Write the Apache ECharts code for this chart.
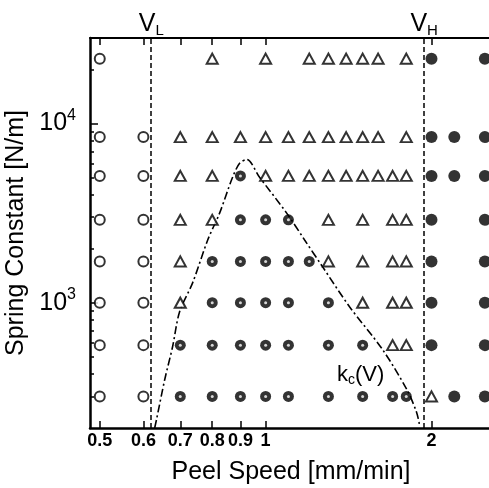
<!DOCTYPE html>
<html>
<head>
<meta charset="utf-8">
<script src="https://cdn.jsdelivr.net/npm/echarts@6/dist/echarts.min.js"></script>
<style>
  html, body { margin: 0; padding: 0; background: #fff; }
  #chart { width: 489px; height: 488px; }
</style>
</head>
<body>
<div id="chart"></div>
<script>
// ─── data ─────────────────────────────────────────────────
// spring constant of each measured row [N/m], top to bottom
const SPRING_K = [23000, 8400, 5100, 2900, 1700, 1000, 580, 300];

// peel speeds [mm/min] per row, split by marker kind
const OPEN_V = [[0.5], [0.5, 0.6], [0.5, 0.6], [0.5, 0.6], [0.5, 0.6], [0.5, 0.6], [0.5, 0.6], [0.5, 0.6]];
const TRI_V = [
  [0.8, 1.0, 1.2, 1.3, 1.4, 1.5, 1.6, 1.8],
  [0.7, 0.8, 0.9, 1.0, 1.1, 1.2, 1.3, 1.4, 1.5, 1.6, 1.8],
  [0.7, 0.8, 1.0, 1.1, 1.2, 1.3, 1.4, 1.5, 1.6, 1.7, 1.8],
  [0.7, 0.8, 1.3, 1.5, 1.7, 1.8],
  [0.7, 1.3, 1.5, 1.7, 1.8],
  [0.7, 1.5, 1.7, 1.8],
  [1.7, 1.8],
  [2.0]
];
const DOT_V = [
  [],
  [],
  [0.9],
  [0.9, 1.0, 1.1],
  [0.8, 0.9, 1.0, 1.1, 1.2],
  [0.8, 0.9, 1.0, 1.1, 1.3],
  [0.7, 0.8, 0.9, 1.0, 1.1, 1.3, 1.5],
  [0.7, 0.8, 0.9, 1.0, 1.1, 1.3, 1.5, 1.7, 1.8]
];
const FILL_V = [[2.0, 2.5], [2.0, 2.2, 2.5], [2.0, 2.2, 2.5], [2.0, 2.5], [2.0, 2.5], [2.0, 2.5], [2.0, 2.5], [2.2, 2.5]];

// critical spring constant curve k_c(V)
const KC_V = [0.629, 0.634, 0.656, 0.678, 0.698, 0.737, 0.785, 0.825, 0.871, 0.897, 0.924, 0.975, 1.092, 1.177, 1.269, 1.42, 1.63, 1.803, 1.879, 1.904];
const KC_K = [200, 224, 373, 570, 891, 1291, 2239, 3162, 5012, 5995, 6300, 5012, 3162, 2239, 1585, 950, 548, 329, 245, 205];

// boundary speeds
const V_L = 0.618;
const V_H = 1.944;

// axis ticks
const X_TICKS = [0.5, 0.6, 0.7, 0.8, 0.9, 1, 2];
const Y_MAJOR = [1000, 10000];
const Y_MINOR = [300, 400, 500, 600, 700, 800, 900, 2000, 3000, 4000, 5000, 6000, 7000, 8000, 9000, 20000];

// ─── helpers ─────────────────────────────────────────────
const toPoints = (rows) => rows.flatMap((vs, i) => vs.map((v) => [v, SPRING_K[i]]));
const FONT = "Liberation Sans";
const BLACK = "#000";

const hollow = { color: "#fff", borderColor: BLACK, borderWidth: 2 };

const xBase = {
  type: "log",
  logBase: 10,
  min: 0.48,
  max: 2.8,
  splitLine: { show: false },
  axisLine: { lineStyle: { color: BLACK, width: 2.5 } },
  axisTick: { inside: true, length: 7, customValues: X_TICKS, lineStyle: { color: BLACK, width: 1.5 } },
};
const yBase = {
  type: "log",
  logBase: 10,
  min: 200,
  max: 30000,
  position: "left",
  splitLine: { show: false },
};

const chart = echarts.init(document.getElementById("chart"));

chart.setOption({
  animation: false,
  backgroundColor: "#fff",
  textStyle: { fontFamily: FONT, color: BLACK },
  grid: { left: 90, top: 38, bottom: 60, right: -23, outerBoundsMode: "none", containLabel: false },
  xAxis: [
    {
      ...xBase,
      position: "bottom",
      name: "Peel Speed [mm/min]",
      nameLocation: "middle",
      nameGap: 32,
      nameTextStyle: { fontFamily: FONT, fontSize: 25, color: BLACK, padding: [0, 20, 0, 0] },
      axisLabel: {
        customValues: X_TICKS,
        formatter: (v) => String(+(+v).toPrecision(2)),
        fontFamily: FONT,
        fontSize: 18,
        fontWeight: "bold",
        color: BLACK,
        margin: 4,
      },
    },
    {
      ...xBase,
      position: "top",
      axisLine: { lineStyle: { color: BLACK, width: 2 } },
      axisLabel: { show: false },
    },
  ],
  yAxis: [
    {
      ...yBase,
      name: "Spring Constant [N/m]",
      nameLocation: "middle",
      nameGap: 48,
      nameTextStyle: { fontFamily: FONT, fontSize: 25, color: BLACK },
      axisLine: { lineStyle: { color: BLACK, width: 2.5 } },
      axisTick: { inside: true, length: 8, customValues: Y_MAJOR, lineStyle: { color: BLACK, width: 1.5 } },
      axisLabel: {
        customValues: Y_MAJOR,
        margin: 14,
        formatter: (v) => "{b|10}{s|" + Math.round(Math.log10(v)) + "}",
        rich: {
          b: { fontFamily: FONT, fontSize: 25, color: BLACK },
          s: { fontFamily: FONT, fontSize: 16, color: BLACK, padding: [0, 0, 16, 0] },
        },
      },
    },
    {
      ...yBase,
      axisLine: { show: false },
      axisTick: { inside: true, length: 4, customValues: Y_MINOR, lineStyle: { color: BLACK, width: 1.5 } },
      axisLabel: { show: false },
    },
  ],
  series: [
    {
      name: "k_c(V)",
      type: "line",
      data: KC_V.map((v, i) => [v, KC_K[i]]),
      smooth: 0.3,
      symbol: "none",
      lineStyle: { color: BLACK, width: 1.6, type: [8, 3, 2, 3] },
      z: 1,
      markPoint: {
        symbol: "circle",
        symbolSize: 1,
        itemStyle: { color: "transparent" },
        label: {
          show: true,
          position: "inside",
          formatter: "{k|k}{c|c}{k|(V)}",
          rich: {
            k: { fontFamily: FONT, fontSize: 22, color: BLACK },
            c: { fontFamily: FONT, fontSize: 14, color: BLACK, padding: [10, 0, 0, 0] },
          },
        },
        data: [{ coord: [1.487, 393] }],
      },
    },
    {
      name: "open",
      type: "scatter",
      data: toPoints(OPEN_V),
      symbol: "circle",
      symbolSize: 10,
      itemStyle: hollow,
      z: 3,
      markLine: {
        silent: true,
        symbol: ["none", "none"],
        lineStyle: { color: BLACK, width: 1.5, type: [5, 3] },
        label: {
          show: true,
          position: "end",
          distance: 0,
          formatter: (p) => "{v|V}{s|" + (p.value < 1 ? "L" : "H") + "}",
          rich: {
            v: { fontFamily: FONT, fontSize: 25, color: BLACK },
            s: { fontFamily: FONT, fontSize: 15, color: BLACK, padding: [12, 0, 0, 0] },
          },
        },
        data: [{ xAxis: V_L }, { xAxis: V_H }],
      },
    },
    {
      name: "triangle",
      type: "scatter",
      data: toPoints(TRI_V),
      symbol: "triangle",
      symbolSize: [11, 10],
      itemStyle: hollow,
      z: 3,
    },
    {
      name: "dotted",
      type: "scatter",
      data: toPoints(DOT_V),
      symbol: "circle",
      symbolSize: 11,
      itemStyle: { color: BLACK },
      z: 3,
    },
    {
      name: "dotted centre",
      type: "scatter",
      data: toPoints(DOT_V),
      symbol: "circle",
      symbolSize: 3,
      itemStyle: { color: "#fff" },
      silent: true,
      z: 4,
    },
    {
      name: "filled",
      type: "scatter",
      data: toPoints(FILL_V),
      symbol: "circle",
      symbolSize: 12,
      itemStyle: { color: BLACK },
      z: 3,
    },
  ],
});
</script>
</body>
</html>
